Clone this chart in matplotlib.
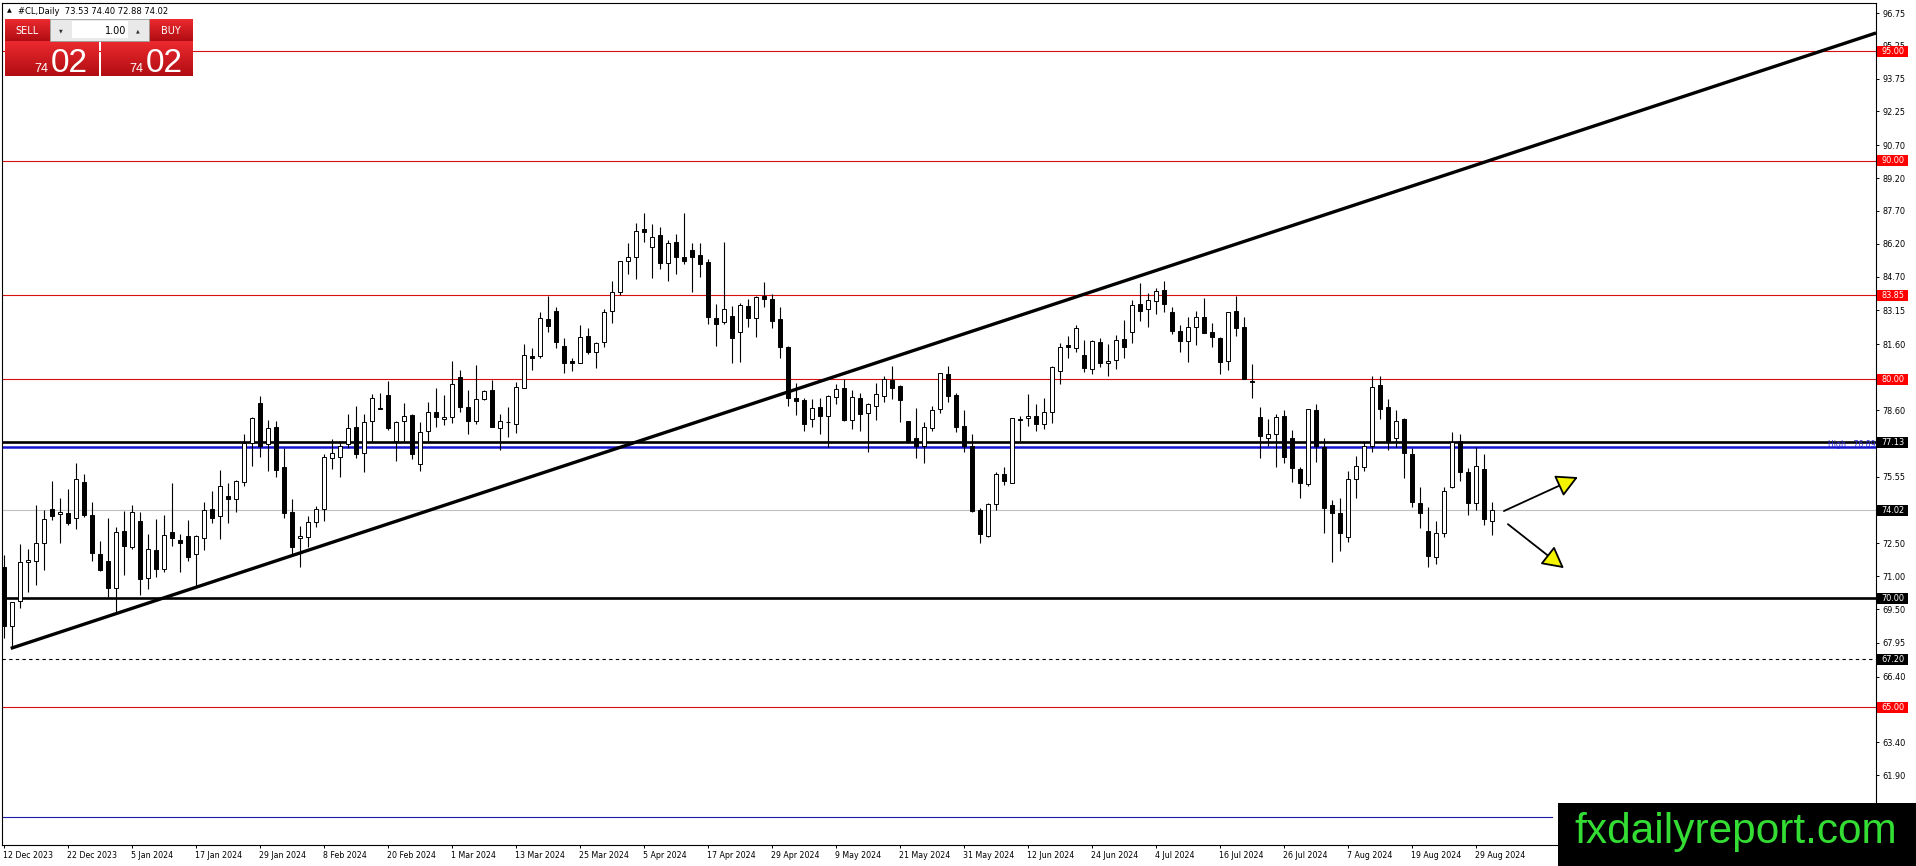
import numpy as np
import matplotlib
matplotlib.use("Agg")
import matplotlib.pyplot as plt
import matplotlib.transforms as mtransforms
from matplotlib.patches import Rectangle, FancyArrowPatch

# daily candles #CL, 12 Dec 2023 .. 2 Sep 2024
opens = [71.43, 68.73, 69.86, 71.63, 71.68, 72.52, 74.07, 73.83, 73.87, 73.64,
         75.29, 73.80, 72.01, 71.69, 70.47, 73.07, 72.35, 73.52, 70.90, 72.20,
         71.31, 73.00, 72.65, 72.84, 72.00, 72.77, 74.07, 73.75, 74.67, 74.51,
         75.29, 77.07, 78.90, 77.04, 77.81, 76.00, 73.92, 72.73, 72.78, 73.49,
         74.06, 76.39, 76.43, 77.03, 77.81, 76.62, 78.09, 78.68, 79.28, 77.18,
         78.09, 78.37, 76.11, 77.64, 78.49, 78.17, 78.29, 80.12, 78.72, 78.11,
         79.10, 79.51, 77.76, 78.06, 77.94, 79.62, 81.07, 81.08, 82.76, 83.12,
         81.52, 80.85, 80.76, 81.98, 81.23, 81.69, 83.14, 84.01, 85.42, 85.61,
         86.86, 86.06, 86.60, 85.30, 86.29, 85.58, 85.91, 85.68, 85.38, 82.82,
         82.61, 82.89, 82.15, 83.35, 82.79, 83.81, 83.66, 82.74, 81.46, 79.16,
         79.06, 78.17, 78.72, 78.34, 79.21, 79.59, 78.14, 79.16, 78.45, 78.80,
         79.25, 79.97, 79.69, 78.09, 77.30, 76.97, 77.76, 78.63, 80.24, 79.28,
         77.87, 76.97, 74.02, 72.85, 74.28, 75.66, 75.24, 78.17, 78.22, 78.34,
         77.94, 78.49, 80.40, 81.57, 81.42, 81.11, 80.46, 81.69, 80.73, 80.88,
         81.84, 82.15, 83.43, 83.22, 83.58, 84.08, 83.09, 82.21, 81.77, 82.38,
         82.84, 82.15, 81.87, 80.84, 83.14, 82.41, 79.92, 78.26, 77.30, 77.49,
         78.34, 77.30, 75.88, 75.21, 78.60, 76.92, 74.25, 73.87, 72.81, 75.43,
         76.01, 76.95, 79.74, 78.72, 77.30, 78.19, 76.57, 74.33, 73.06, 71.89,
         72.96, 75.09, 77.20, 75.75, 74.36, 75.88, 73.53]
highs = [71.97, 69.83, 72.47, 72.24, 74.25, 74.03, 75.35, 74.59, 74.97, 76.16,
         75.66, 74.38, 72.61, 73.64, 73.26, 73.98, 74.25, 73.92, 72.93, 73.60,
         73.80, 75.25, 72.91, 73.57, 72.90, 74.38, 74.89, 75.85, 75.25, 75.40,
         77.50, 78.30, 79.24, 78.14, 78.09, 76.88, 74.53, 73.30, 73.77, 74.21,
         76.57, 77.27, 77.10, 78.44, 78.78, 78.40, 79.31, 79.36, 79.92, 78.09,
         78.90, 78.40, 78.03, 78.98, 79.59, 79.28, 80.84, 80.43, 79.51, 80.66,
         79.51, 79.97, 78.44, 78.75, 79.89, 81.61, 81.42, 83.06, 83.82, 83.29,
         81.87, 80.96, 82.48, 82.33, 81.72, 83.20, 84.50, 85.42, 86.22, 87.16,
         87.59, 87.09, 86.95, 86.37, 86.65, 87.59, 86.22, 86.22, 85.49, 83.43,
         86.29, 83.35, 83.47, 83.66, 83.81, 84.44, 83.90, 83.29, 81.52, 79.85,
         79.13, 79.10, 79.13, 79.28, 79.79, 80.00, 79.51, 79.36, 78.90, 79.82,
         80.15, 80.61, 79.74, 78.09, 78.67, 78.03, 78.80, 80.31, 80.61, 79.39,
         78.60, 77.50, 74.10, 74.33, 75.78, 76.00, 78.25, 78.34, 79.33, 78.86,
         79.13, 80.62, 81.65, 81.98, 82.48, 81.80, 81.80, 81.91, 81.61, 82.03,
         82.71, 83.63, 84.39, 83.93, 84.16, 84.50, 83.29, 82.48, 82.83, 83.14,
         83.70, 82.56, 81.95, 83.06, 83.81, 82.86, 80.70, 78.72, 78.19, 78.44,
         78.60, 77.68, 76.01, 78.63, 78.87, 77.30, 74.48, 74.56, 75.82, 76.49,
         77.15, 80.15, 80.15, 79.10, 78.60, 78.22, 76.88, 75.06, 74.15, 73.52,
         75.06, 77.58, 77.50, 75.93, 76.92, 76.57, 74.40]
lows = [68.19, 67.70, 69.53, 70.29, 70.60, 71.28, 73.57, 72.50, 73.34, 73.14,
        73.72, 71.71, 71.25, 70.03, 69.35, 71.05, 72.23, 70.12, 70.41, 70.97,
        71.17, 72.39, 71.21, 71.69, 70.52, 72.20, 73.42, 72.70, 73.42, 73.95,
        75.14, 76.04, 76.43, 75.82, 75.52, 73.67, 71.94, 71.40, 72.35, 73.23,
        73.52, 75.90, 75.52, 76.85, 76.39, 75.75, 77.15, 78.63, 77.68, 76.28,
        77.15, 76.34, 75.82, 77.18, 77.81, 77.91, 78.02, 78.52, 77.50, 77.96,
        79.05, 77.81, 76.77, 77.35, 77.56, 79.59, 80.43, 81.00, 82.18, 81.42,
        80.30, 80.40, 80.73, 81.16, 80.53, 81.49, 82.59, 83.85, 84.82, 84.59,
        86.29, 84.65, 85.04, 84.51, 84.82, 85.26, 84.01, 84.69, 82.51, 81.54,
        82.51, 80.76, 80.81, 82.41, 81.95, 83.32, 82.36, 80.96, 78.80, 78.37,
        77.65, 77.84, 77.50, 76.92, 78.87, 78.11, 77.71, 77.65, 76.66, 78.14,
        78.98, 79.10, 78.06, 77.07, 76.42, 76.16, 77.65, 78.48, 78.98, 77.61,
        76.66, 73.95, 72.50, 72.81, 74.02, 75.17, 75.24, 77.18, 77.88, 77.65,
        77.71, 77.99, 79.77, 80.99, 81.26, 80.35, 80.24, 80.58, 80.17, 80.47,
        80.96, 81.65, 82.68, 82.41, 82.99, 83.06, 82.06, 81.24, 80.78, 81.57,
        82.10, 81.46, 80.23, 80.43, 81.99, 80.00, 79.13, 76.39, 76.95, 76.01,
        76.19, 75.32, 74.59, 75.14, 76.24, 72.96, 71.66, 72.17, 72.58, 74.59,
        75.81, 76.69, 78.17, 76.77, 76.92, 75.50, 74.15, 73.19, 71.43, 71.56,
        72.81, 75.02, 75.37, 73.80, 74.02, 73.34, 72.88]
closes = [68.73, 69.83, 71.63, 71.74, 72.52, 73.60, 73.77, 73.93, 73.45, 75.44,
          73.80, 72.04, 71.28, 70.47, 73.00, 72.39, 73.92, 70.87, 72.24, 71.31,
          72.88, 72.77, 72.50, 71.89, 72.84, 74.01, 73.64, 75.11, 74.51, 75.34,
          77.07, 78.22, 76.95, 77.76, 75.85, 73.90, 72.35, 72.84, 73.46, 74.06,
          76.46, 76.62, 76.95, 77.76, 76.57, 78.03, 79.13, 78.66, 77.79, 78.03,
          78.34, 76.57, 77.58, 78.49, 78.26, 78.26, 79.77, 78.75, 78.11, 79.10,
          79.46, 77.84, 78.09, 78.03, 79.63, 81.11, 80.96, 82.79, 82.45, 81.72,
          80.76, 80.76, 81.92, 81.23, 81.68, 83.06, 83.98, 85.41, 85.61, 86.80,
          86.72, 86.52, 85.30, 86.22, 85.58, 85.42, 85.61, 85.26, 82.83, 82.51,
          83.22, 81.87, 83.40, 82.79, 83.75, 83.66, 82.68, 81.49, 79.13, 79.02,
          77.96, 78.67, 78.34, 79.24, 79.54, 78.14, 79.18, 78.40, 78.86, 79.31,
          80.02, 79.62, 79.06, 77.12, 76.97, 77.81, 78.60, 80.27, 79.24, 77.83,
          76.97, 73.99, 72.91, 74.28, 75.66, 75.37, 78.22, 78.14, 78.32, 77.94,
          78.49, 80.58, 81.49, 81.49, 82.33, 80.53, 81.75, 80.73, 80.85, 81.80,
          81.46, 83.40, 83.14, 83.63, 84.04, 83.43, 82.22, 81.77, 82.41, 82.84,
          82.13, 81.95, 80.78, 83.06, 82.33, 80.01, 79.89, 77.42, 77.49, 78.29,
          76.43, 75.93, 75.25, 78.63, 76.95, 74.13, 73.90, 72.96, 75.43, 76.05,
          76.97, 79.63, 78.63, 77.15, 78.09, 76.62, 74.41, 73.87, 71.94, 72.96,
          74.91, 77.15, 75.75, 74.36, 76.04, 73.61, 74.02]

date_labels = ["12 Dec 2023", "22 Dec 2023", "5 Jan 2024", "17 Jan 2024", "29 Jan 2024",
               "8 Feb 2024", "20 Feb 2024", "1 Mar 2024", "13 Mar 2024", "25 Mar 2024",
               "5 Apr 2024", "17 Apr 2024", "29 Apr 2024", "9 May 2024", "21 May 2024",
               "31 May 2024", "12 Jun 2024", "24 Jun 2024", "4 Jul 2024", "16 Jul 2024",
               "26 Jul 2024", "7 Aug 2024", "19 Aug 2024", "29 Aug 2024"]
date_every = 8

# scale labels that are not hidden behind the price tags
price_ticks = [96.75, 95.25, 93.75, 92.25, 90.70, 89.20, 87.70, 86.20, 84.70, 83.15,
               81.60, 78.60, 75.55, 72.50, 71.00, 69.50, 67.95,
               66.40, 63.40, 61.90]

red_levels = [95.00, 90.00, 83.85, 80.00, 65.00]
black_levels = [77.13, 70.00]
dashed_level = 67.20
high_level = 76.89
low_blue_level = 60.00
bid = 74.02
trend_start = (0.9, 67.70)
trend_end = (234.0, 95.84)
quote = "#CL,Daily  73.53 74.40 72.88 74.02"

W, H = 1916, 866
fig = plt.figure(figsize=(W / 100, H / 100), dpi=100)
ax = fig.add_axes([2 / W, 21 / H, (1876 - 2) / W, (845 - 3) / H])
ax.set_xlim(-0.19, 234)
ax.set_ylim(58.71, 97.21)

o = np.array(opens); c = np.array(closes)
hi = np.array(highs); lo = np.array(lows)
x = np.arange(len(o))

# wicks + bodies
ax.vlines(x, lo, hi, color="black", lw=0.8, zorder=3)
bottom = np.minimum(o, c)
height = np.maximum(np.abs(c - o), 0.012)
face = np.where(c >= o, "white", "black")
ax.bar(x, height, bottom=bottom, width=0.5, color=face, edgecolor="black",
       linewidth=0.7, zorder=4)

# horizontal levels
for lv in red_levels:
    ax.axhline(lv, color="#d81010", lw=0.8, zorder=2)
ax.axhline(bid, color="#c0c0c0", lw=0.8, zorder=1)
ax.axhline(high_level, color="#1515d0", lw=1.8, zorder=2)
for lv in black_levels:
    ax.axhline(lv, color="black", lw=1.9, zorder=2)
ax.axhline(dashed_level, color="black", lw=0.8, ls=(0, (3, 3)), zorder=2)
ax.plot([-1, 193.5], [low_blue_level, low_blue_level], color="#1c1ca8", lw=0.8, zorder=2)

ax.plot([trend_start[0], trend_end[0]], [trend_start[1], trend_end[1]],
        color="black", lw=2.4, solid_capstyle="butt", zorder=5)

# arrows
for (x0, y0), (x1, y1) in [((187.5, 73.98), (196.75, 75.53)), ((188.0, 73.38), (195.0, 71.37))]:
    ax.add_patch(FancyArrowPatch((x0, y0), (x1, y1), arrowstyle="-|>,head_length=6,head_width=3.2",
                                 mutation_scale=2.2, facecolor="#f4f400", edgecolor="black",
                                 lw=1.3, shrinkA=0, shrinkB=0, zorder=6))

# axes styling
for s in ax.spines.values():
    s.set_linewidth(0.8)
ax.yaxis.tick_right()
ax.set_yticks(price_ticks)
ax.set_yticklabels([f"{v:.2f}" for v in price_ticks])
ax.tick_params(axis="y", direction="out", length=2.5, width=0.7, pad=2, labelsize=5.9)
ticks_x = list(range(0, date_every * len(date_labels), date_every))
ax.set_xticks(ticks_x)
ax.set_xticklabels(date_labels, ha="left")
ax.tick_params(axis="x", direction="out", length=2.5, width=0.7, pad=1.5, labelsize=5.7)
offset = mtransforms.ScaledTranslation(-1 / 100, 0, fig.dpi_scale_trans)
for lab in ax.get_xticklabels():
    lab.set_transform(lab.get_transform() + offset)

# price tags on the right scale
bt = mtransforms.blended_transform_factory(ax.transAxes, ax.transData)
tags = [(lv, "#ff0000") for lv in red_levels] + [(77.13, "black"), (bid, "black"),
                                                  (70.00, "black"), (dashed_level, "black")]
for lv, col in tags:
    ax.add_patch(Rectangle((1.0008, lv - 0.25), 0.0165, 0.5, transform=bt, fc=col, ec="none",
                           clip_on=False, zorder=9))
    ax.text(1.0091, lv, f"{lv:.2f}", transform=bt, ha="center", va="center", fontsize=5.9,
            color="white", clip_on=False, zorder=10)
ax.text(0.9995, 77.02, f"High   {high_level:.2f}", transform=bt, ha="right", va="center",
        fontsize=5.6, color="#2a2ad0", zorder=7)

# overlay in pixel coordinates: trade panel + watermark
ov = fig.add_axes([0, 0, 1, 1], zorder=20)
ov.set_xlim(0, W); ov.set_ylim(H, 0)
ov.axis("off")
ov.patch.set_visible(False)

grad = np.linspace(0, 1, 64).reshape(-1, 1)
red_cmap = matplotlib.colors.LinearSegmentedColormap.from_list("r", ["#ec2a2f", "#b00d12"])
for (x0, x1, y0, y1) in [(5, 50, 19, 41), (5, 99, 41, 76), (149, 193, 19, 41), (101, 193, 41, 76)]:
    ov.imshow(grad, cmap=red_cmap, extent=(x0, x1, y1, y0), aspect="auto", zorder=1)
ov.add_patch(Rectangle((50, 19), 99, 22, fc="#e9e9e9", ec="#9a9a9a", lw=0.6, zorder=2))
ov.add_patch(Rectangle((72, 21), 56, 17, fc="white", ec="none", zorder=3))
ov.text(27, 30.5, "SELL", color="white", fontsize=7, ha="center", va="center", zorder=4)
ov.text(171, 30.5, "BUY", color="white", fontsize=7, ha="center", va="center", zorder=4)
ov.text(126, 30.5, "1.00", color="black", fontsize=7, ha="right", va="center", zorder=4)
ov.text(60.5, 30.5, "\u25BC", color="#333333", fontsize=3.5, ha="center", va="center", zorder=4)
ov.text(138, 30.5, "\u25B2", color="#333333", fontsize=3.5, ha="center", va="center", zorder=4)
for bx in (0, 95):
    ov.text(48 + bx, 72, "74", color="white", fontsize=9, ha="right", va="baseline",
            family="Liberation Sans", zorder=4)
    ov.text(51 + bx, 72, "02", color="white", fontsize=24, ha="left", va="baseline",
            family="Liberation Sans", zorder=4)
ov.text(7, 11, "\u25B2", fontsize=4.5, ha="left", va="center", color="black")
ov.text(18, 11, quote, fontsize=6.0, ha="left", va="center", color="black")

ov.add_patch(Rectangle((1558, 803), W - 1558, H - 803, fc="black", ec="none", zorder=5))
ov.text(1736, 843, "fxdailyreport.com", color="#33dd33", fontsize=30.5, ha="center",
        va="baseline", family="Liberation Sans", zorder=6)

fig.savefig("out.png", dpi=100, facecolor="white")
